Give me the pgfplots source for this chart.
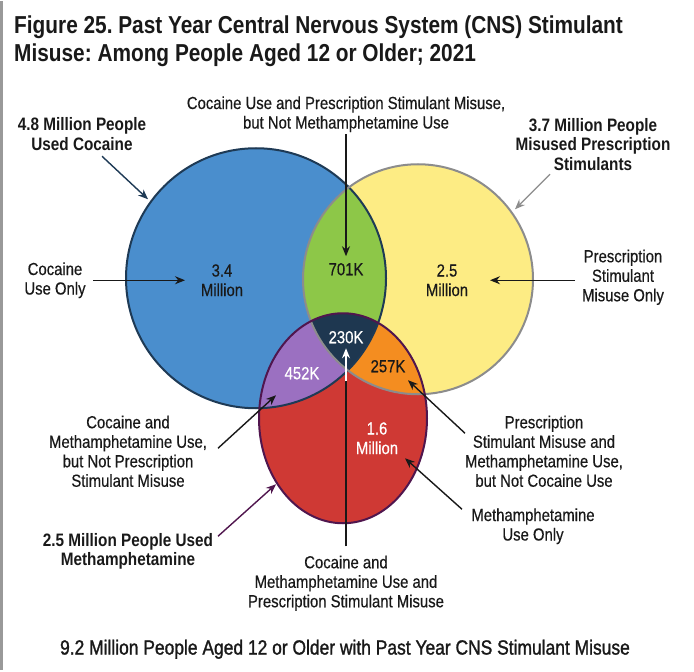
\documentclass[border=0pt]{standalone}
\usepackage{pgfplots}
\pgfplotsset{compat=1.18}
\usepackage{fontspec}
\setmainfont{Liberation Sans}[FakeStretch=0.85, UprightFeatures={FakeBold=0.4}]
\newfontfamily\footfont{Liberation Sans}[FakeStretch=0.85, FakeBold=1.3]
\usetikzlibrary{arrows.meta}
\frenchspacing

\definecolor{cocaine}{RGB}{74,142,205}
\definecolor{rxstim}{RGB}{253,236,132}
\definecolor{cocrx}{RGB}{141,199,72}
\definecolor{meth}{RGB}{207,57,52}
\definecolor{cocmeth}{RGB}{155,112,193}
\definecolor{rxmeth}{RGB}{244,141,32}
\definecolor{allthree}{RGB}{30,55,80}
\definecolor{cocline}{RGB}{30,58,85}
\definecolor{rxline}{RGB}{140,140,140}
\definecolor{methline}{RGB}{80,22,78}
\definecolor{txt}{RGB}{25,25,25}

\newcommand{\body}{\fontsize{17.5}{19.5}\selectfont}
\newcommand{\bbody}{\fontsize{18}{19.5}\selectfont\bfseries}

% the three sets
\def\setA{(axis cs:256,277) circle[radius=130pt]}
\def\setB{(axis cs:418,278) circle[radius=115pt]}
\def\setC{(axis cs:343,417) ellipse[x radius=84pt, y radius=105pt]}

\tikzset{arr/.style={-{Stealth[length=10pt,width=8pt]}, line width=1.4pt, draw=txt}}

\begin{document}
\begin{tikzpicture}
\begin{axis}[x=1pt, y=1pt, y dir=reverse,
  xmin=0, xmax=694, ymin=0, ymax=669,
  hide axis, scale only axis, clip=false]

\path[fill=white] (axis cs:0,0) rectangle (axis cs:694,669);
\draw[black!40, line width=2.5pt] (axis cs:1.25,0) -- (axis cs:1.25,669);

% title
\node[anchor=base west, font=\fontsize{24.5}{28}\selectfont\bfseries, text=txt, inner sep=0pt]
  at (axis cs:14,32) {Figure 25. Past Year Central Nervous System (CNS) Stimulant};
\node[anchor=base west, font=\fontsize{24.5}{28}\selectfont\bfseries, text=txt, inner sep=0pt]
  at (axis cs:14,60) {Misuse: Among People Aged 12 or Older; 2021};

% regions
\fill[cocaine] \setA;
\fill[rxstim] \setB;
\begin{scope}\clip \setA; \fill[cocrx] \setB;\end{scope}
\fill[meth] \setC;
\begin{scope}\clip \setC; \fill[cocmeth] \setA;\end{scope}
\begin{scope}\clip \setC; \fill[rxmeth] \setB;\end{scope}
\begin{scope}\clip \setC; \clip \setA; \fill[allthree] \setB;\end{scope}
\draw[cocline, line width=2pt] \setA;
\draw[rxline, line width=2pt] \setB;
\draw[methline, line width=2pt] \setC;

% region values
\node[font=\body, text=txt, align=center] at (axis cs:222,279) {3.4\\Million};
\node[font=\body, text=txt] at (axis cs:346,268) {701K};
\node[font=\body, text=txt, align=center] at (axis cs:447,279) {2.5\\Million};
\node[font=\body, text=white] at (axis cs:346,336) {230K};
\node[font=\body, text=white] at (axis cs:302,372) {452K};
\node[font=\body, text=txt] at (axis cs:388,365) {257K};
\node[font=\body, text=white, align=center] at (axis cs:377,437) {1.6\\Million};

% set totals
\node[font=\bbody, text=txt, align=center] at (axis cs:82,133) {4.8 Million People\\Used Cocaine};
\node[font=\bbody, text=txt, align=center] at (axis cs:593,143) {3.7 Million People\\Misused Prescription\\Stimulants};
\node[font=\bbody, text=txt, align=center] at (axis cs:128,550) {2.5 Million People Used\\Methamphetamine};

% region descriptions
\node[font=\body, text=txt, align=center] at (axis cs:346,113) {Cocaine Use and Prescription Stimulant Misuse,\\but Not Methamphetamine Use};
\node[font=\body, text=txt, align=center] at (axis cs:55,279) {Cocaine\\Use Only};
\node[font=\body, text=txt, align=center] at (axis cs:623,276) {Prescription\\Stimulant\\Misuse Only};
\node[font=\body, text=txt, align=center] at (axis cs:128,450) {Cocaine and\\Methamphetamine Use,\\but Not Prescription\\Stimulant Misuse};
\node[font=\body, text=txt, align=center] at (axis cs:544,450) {Prescription\\Stimulant Misuse and\\Methamphetamine Use,\\but Not Cocaine Use};
\node[font=\body, text=txt, align=center] at (axis cs:533,525) {Methamphetamine\\Use Only};
\node[font=\body, text=txt, align=center] at (axis cs:346,582) {Cocaine and\\Methamphetamine Use and\\Prescription Stimulant Misuse};

\node[font=\footfont\fontsize{20.5}{24}\selectfont, text=txt] at (axis cs:345,648)
  {9.2 Million People Aged 12 or Older with Past Year CNS Stimulant Misuse};

% pointers
\draw[arr, draw=cocline] (axis cs:102,155) -- (axis cs:148,198);
\draw[arr, draw=rxline] (axis cs:550,173) -- (axis cs:515,208);
\draw[arr, draw=methline] (axis cs:218,535) -- (axis cs:276,483);
\draw[arr] (axis cs:346,133) -- (axis cs:346,255);
\draw[arr] (axis cs:93,279) -- (axis cs:185,279);
\draw[arr] (axis cs:575,279) -- (axis cs:490,279);
\draw[arr] (axis cs:218,447) -- (axis cs:276,394);
\draw[arr] (axis cs:465,432) -- (axis cs:408,379);
\draw[arr] (axis cs:462,508) -- (axis cs:405,457);
\draw[line width=1.4pt, draw=txt] (axis cs:346,545) -- (axis cs:346,372);
\draw[arr, draw=white] (axis cs:346,380) -- (axis cs:346,347);

\end{axis}
\end{tikzpicture}
\end{document}
